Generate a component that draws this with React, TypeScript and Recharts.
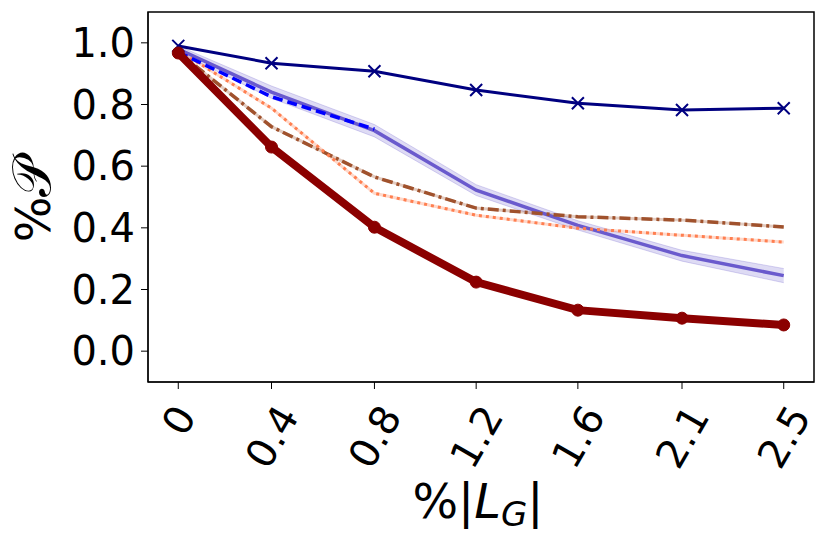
import { ComposedChart, Line, Area, XAxis, YAxis, ReferenceArea } from "recharts";

const X_VALUES = [0, 0.385, 0.81, 1.23, 1.65, 2.08, 2.5];
const X_LABELS = ["0", "0.4", "0.8", "1.2", "1.6", "2.1", "2.5"];
const Y_TICKS = [0, 0.2, 0.4, 0.6, 0.8, 1.0];

const navy = [0.99, 0.934, 0.908, 0.847, 0.804, 0.782, 0.788];
const darkRed = [0.967, 0.662, 0.402, 0.224, 0.133, 0.107, 0.085];
const slate = [0.98, 0.84, 0.715, 0.522, 0.408, 0.31, 0.245];
const slateLo = [0.97, 0.82, 0.695, 0.505, 0.393, 0.292, 0.222];
const slateHi = [0.99, 0.86, 0.735, 0.54, 0.423, 0.327, 0.268];
const blueDash = [0.97, 0.825, 0.72, null, null, null, null];
const sienna = [0.97, 0.728, 0.565, 0.464, 0.436, 0.425, 0.403];
const coral = [0.975, 0.788, 0.512, 0.441, 0.399, 0.376, 0.354];

const data = X_VALUES.map((x, i) => ({
  x,
  navy: navy[i],
  darkRed: darkRed[i],
  slate: slate[i],
  band: [slateLo[i], slateHi[i]],
  blue: blueDash[i],
  sienna: sienna[i],
  coral: coral[i],
}));

const FONT = "DejaVu Sans, sans-serif";
const TICK_SIZE = 40;

function charWidth(c: string) {
  return c === "." ? 0.318 : 0.636;
}

function XTick(props: any) {
  const { x, y, payload } = props;
  const idx = X_VALUES.indexOf(payload.value);
  const label = idx >= 0 ? X_LABELS[idx] : String(payload.value);
  const w = label.split("").reduce((s, c) => s + charWidth(c), 0) * TICK_SIZE;
  const ex = x + w / 4;
  const ey = y + 20;
  return (
    <text
      x={0}
      y={0}
      dy="0.36em"
      textAnchor="end"
      fontSize={TICK_SIZE}
      fontFamily={FONT}
      fill="#000"
      transform={`translate(${ex},${ey}) rotate(-60)`}
    >
      {label}
    </text>
  );
}

function CrossDot(props: any) {
  const { cx, cy } = props;
  if (cx == null || cy == null) return null;
  const s = 6;
  return (
    <path
      d={`M${cx - s},${cy - s}L${cx + s},${cy + s}M${cx - s},${cy + s}L${cx + s},${cy - s}`}
      stroke="#000080"
      strokeWidth={2}
      fill="none"
    />
  );
}

function XLabel() {
  return (
    <text x={478} y={518} textAnchor="middle" fontSize={48} fontFamily={FONT} fill="#000">
      %|<tspan fontStyle="italic">L</tspan>
      <tspan fontStyle="italic" fontSize={34} dy={8}>G</tspan>
      <tspan dy={-8}>|</tspan>
    </text>
  );
}

function YLabel() {
  return (
    <text
      x={0}
      y={0}
      textAnchor="middle"
      fontSize={48}
      fontFamily={FONT}
      fill="#000"
      transform="translate(50,200) rotate(-90)"
    >
      %<tspan fontSize={54}>𝒫</tspan>
    </text>
  );
}

export default function App() {
  return (
    <div style={{ position: "absolute", left: 0, top: 0, background: "#fff" }}>
      <ComposedChart
        width={831}
        height={546}
        data={data}
        margin={{ top: 12, right: 17, left: 0, bottom: 0 }}
      >
        <XAxis
          dataKey="x"
          type="number"
          domain={[-0.125, 2.625]}
          ticks={X_VALUES}
          allowDataOverflow
          height={164}
          tickSize={7}
          tickMargin={0}
          stroke="#000"
          tick={<XTick />}
          label={<XLabel />}
        />
        <YAxis
          type="number"
          domain={[-0.1, 1.1]}
          ticks={Y_TICKS}
          allowDataOverflow
          width={148}
          tickSize={7}
          tickMargin={6}
          stroke="#000"
          tickFormatter={(v: number) => v.toFixed(1)}
          tick={{ fontSize: TICK_SIZE, fontFamily: FONT, fill: "#000" }}
          label={<YLabel />}
        />
        <ReferenceArea
          x1={-0.125}
          x2={2.625}
          y1={-0.1}
          y2={1.1}
          stroke="#000"
          strokeWidth={1.5}
          fill="none"
          ifOverflow="visible"
        />
        <Area
          dataKey="band"
          type="linear"
          fill="#6A5ACD"
          fillOpacity={0.22}
          stroke="#6A5ACD"
          strokeOpacity={0.25}
          strokeWidth={1}
          isAnimationActive={false}
          dot={false}
          activeDot={false}
        />
        <Line dataKey="coral" type="linear" stroke="#FF7F50" strokeOpacity={0.3} strokeWidth={3} dot={false} isAnimationActive={false} />
        <Line dataKey="sienna" type="linear" stroke="#A0522D" strokeOpacity={0.3} strokeWidth={3} dot={false} isAnimationActive={false} />
        <Line dataKey="slate" type="linear" stroke="#6A5ACD" strokeWidth={3.5} dot={false} isAnimationActive={false} />
        <Line dataKey="sienna" type="linear" stroke="#A0522D" strokeWidth={3.5} strokeDasharray="11 4 3 4" dot={false} isAnimationActive={false} />
        <Line dataKey="coral" type="linear" stroke="#FF7F50" strokeWidth={3} strokeDasharray="3 4" dot={false} isAnimationActive={false} />
        <Line dataKey="blue" type="linear" stroke="#0000FF" strokeWidth={3.5} strokeDasharray="10 5" dot={false} connectNulls={false} isAnimationActive={false} />
        <Line dataKey="navy" type="linear" stroke="#000080" strokeWidth={3} dot={<CrossDot />} isAnimationActive={false} />
        <Line
          dataKey="darkRed"
          type="linear"
          stroke="#8B0000"
          strokeWidth={8}
          dot={{ r: 6, fill: "#8B0000", stroke: "#8B0000", strokeWidth: 1 }}
          isAnimationActive={false}
        />
      </ComposedChart>
    </div>
  );
}
